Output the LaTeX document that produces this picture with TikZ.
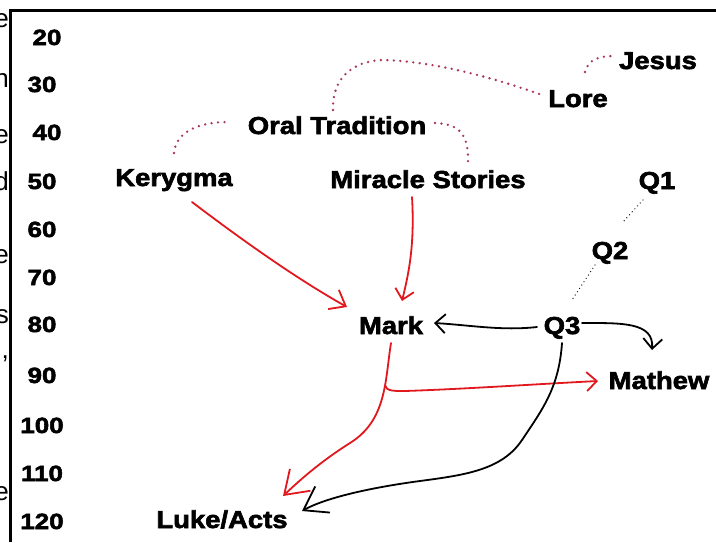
\documentclass[tikz,border=0pt]{standalone}
\usepackage{fontspec}
\setmainfont{Liberation Sans}
\newfontfamily\labfont{Liberation Sans}[FakeStretch=1.12,FakeBold=2.5]
\newfontfamily\numfont{Liberation Sans}[FakeStretch=1.18,FakeBold=2.5]
\usetikzlibrary{arrows.meta,calc}
\definecolor{arrred}{RGB}{225,25,30}
\definecolor{dotcol}{RGB}{170,55,85}
\begin{document}
\begin{tikzpicture}[x=1pt,y=-1pt,
  lab/.style={font=\labfont\bfseries\fontsize{24.5}{28}\selectfont, inner sep=0pt, anchor=base},
  num/.style={font=\numfont\bfseries\fontsize{22}{26}\selectfont, inner sep=0pt, anchor=base},
  frag/.style={font=\fontsize{26}{30}\selectfont, inner sep=0pt, anchor=base east},
  reddots/.style={draw=dotcol, line width=2.6pt, line cap=round, dash pattern=on 0pt off 6.5pt},
  blackdots/.style={draw=black, line width=1.3pt, line cap=round, dash pattern=on 0pt off 4pt},
  redarr/.style={draw=arrred, line width=1.8pt, line cap=round, -{Straight Barb[length=10pt,width=19pt]}},
  blkarr/.style={draw=black, line width=1.8pt, line cap=round, -{Straight Barb[length=10pt,width=19pt]}},
  bighead/.style={-{Straight Barb[length=22pt,width=30pt]}},
  midhead/.style={-{Straight Barb[length=14pt,width=22pt]}},
]
\useasboundingbox (0,0) rectangle (716,542);
\fill[white] (0,0) rectangle (716,542);

% cut-off text fragments at the left edge
\node[frag] (f1) at (9,27) {e};
\node[frag] (f2) at (9,87) {n};
\node[frag] (f3) at (9,143) {e};
\node[frag] (f4) at (9,190) {d};
\node[frag] (f5) at (9,263) {e};
\node[frag] (f6) at (9,323) {s};
\node[frag] (f7) at (9,358) {,};
\node[frag] (f8) at (9,500) {e};

% frame
\draw[line width=3pt] (10.5,542) -- (10.5,10) -- (716,10);

% scale numbers
\node[num] (n20)  at (47,45)  {20};
\node[num] (n30)  at (42,92)  {30};
\node[num] (n40)  at (47,140) {40};
\node[num] (n50)  at (42,189) {50};
\node[num] (n60)  at (42,237) {60};
\node[num] (n70)  at (42,285) {70};
\node[num] (n80)  at (42,332) {80};
\node[num] (n90)  at (42,383) {90};
\node[num] (n100) at (42,433) {100};
\node[num] (n110) at (42,481) {110};
\node[num] (n120) at (42,529) {120};

% labels
\node[lab] (jesus) at (658,69)  {Jesus};
\node[lab] (lore)  at (578,107) {Lore};
\node[lab] (oral)  at (337,134) {Oral Tradition};
\node[lab] (kery)  at (174,186) {Kerygma};
\node[lab] (mir)   at (428,188) {Miracle Stories};
\node[lab] (q1)    at (657,189) {Q1};
\node[lab] (q2)    at (610,259) {Q2};
\node[lab] (mark)  at (391,334) {Mark};
\node[lab] (q3)    at (562,334) {Q3};
\node[lab] (math)  at (659,389) {Mathew};
\node[lab] (luke)  at (222,528) {Luke/Acts};

% dotted links
\draw[reddots] ($(kery.base)+(0,-33)$) .. controls +(2,-22) and +(-28,0) .. ($(oral.base)+(-109,-12)$);
\draw[reddots] ($(oral.base)+(-4,-24)$) .. controls +(-1,-38) and +(-25,0) .. (385,60)
  .. controls +(55,2) and +(-45,-16) .. ($(lore.base)+(-33,-11)$);
\draw[reddots] ($(oral.base)+(98,-11)$) .. controls +(25,1) and +(1,-28) .. ($(mir.base)+(40,-25)$);
\draw[reddots] ($(lore.base)+(7,-35)$) .. controls +(3,-12) and +(-16,0) .. ($(jesus.base)+(-44,-13)$);
\draw[blackdots] ($(q1.base)+(-14,11)$) -- ($(q2.base)+(13,-37)$);
\draw[blackdots] ($(q2.base)+(-15,6)$) -- ($(q3.base)+(10,-34)$);

% red arrows
\draw[redarr,midhead] ($(kery.base)+(18,16)$) .. controls +(50,38) and +(-50,-28) .. ($(mark.base)+(-44,-27)$);
\draw[redarr] ($(mir.base)+(-16,9)$) .. controls +(3,50) and +(6,-25) .. ($(mark.base)+(11,-33)$);
\draw[redarr,bighead] ($(mark.base)+(0,9)$) .. controls (385,380) and (387,420) .. (350,443) coordinate[pos=0.38] (br)
  .. controls (320,462) and (300,480) .. ($(luke.base)+(61,-32)$);
\draw[redarr] (br) .. controls +(1,6) and +(-10,0) .. (405,391)
  .. controls +(60,-2) and +(-60,3) .. ($(math.base)+(-61,-8)$);

% black arrows
\draw[blkarr] ($(q3.base)+(-25,-7)$) .. controls +(-35,4) and +(35,2) .. ($(mark.base)+(43,-11)$);
\draw[blkarr] ($(q3.base)+(20,-11)$) .. controls +(40,0) and +(2,-28) .. ($(math.base)+(-7,-39)$);
\draw[blkarr,bighead] ($(q3.base)+(0,9)$) .. controls +(-3,45) and +(20,-30) .. (522,440)
  .. controls +(-20,30) and +(45,-6) .. (420,481)
  .. controls +(-45,6) and +(25,-14) .. ($(luke.base)+(80,-17)$);
\end{tikzpicture}
\end{document}
